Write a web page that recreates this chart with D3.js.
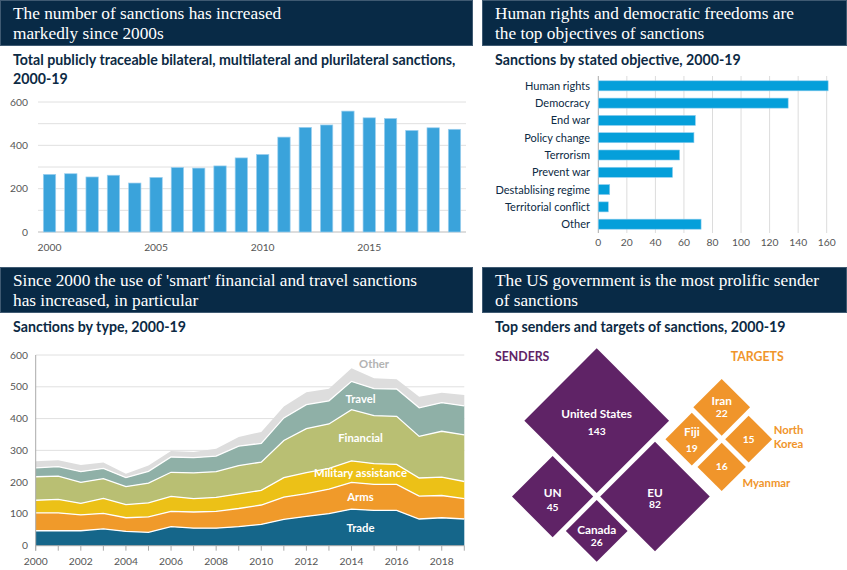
<!DOCTYPE html>
<html><head><meta charset="utf-8">
<script src="https://cdn.jsdelivr.net/npm/d3@7"></script>
<style>
html,body{margin:0;padding:0;background:#fff;}
svg{display:block;}
.hdr{font-family:"Liberation Serif",serif;font-size:17.3px;fill:#fff;}
.sub{font-family:Lato,"Open Sans",sans-serif;font-weight:700;font-size:14.2px;fill:#0c2a44;}
.tick{font-family:Lato,"Open Sans",sans-serif;font-size:10.3px;fill:#555;}
.cat{font-family:Lato,"Open Sans",sans-serif;font-size:11px;fill:#0c2a44;}
.lbl{font-family:Lato,"Open Sans",sans-serif;font-weight:700;font-size:11.3px;}
</style>
</head><body>
<svg id="c" width="847" height="570"></svg>
<script>
// ---------- DATA ----------
const years = d3.range(2000, 2020);
const totalSanctions = [266,269,254,262,226,252,298,295,305,342,358,438,483,494,558,527,524,469,481,474];

const objectives = ["Human rights","Democracy","End war","Policy change","Terrorism","Prevent war","Destablising regime","Territorial conflict","Other"];
const objectiveCounts = [161,133,68,67,57,52,8,7,72];

const typeKeys = ["Trade","Arms","Military assistance","Financial","Travel","Other"];
const trade     = [47,47,47,53,45,42,60,55,55,60,67,83,92,101,115,111,111,84,88,84];
const arms      = [56,56,50,49,43,49,48,51,53,57,61,70,72,77,84,82,82,72,70,64];
const military  = [40,43,36,47,41,44,47,42,44,46,46,61,66,65,68,65,63,57,58,54];
const financial = [74,73,66,62,57,62,76,81,81,89,89,117,138,140,161,151,151,131,144,147];
const travel    = [28,30,34,32,28,37,48,48,49,61,59,71,76,73,89,85,86,90,90,91];
const otherType = [21,20,21,19,12,18,19,18,23,29,36,36,39,38,41,33,31,35,31,34];

const senders = ["United States","UN","EU","Canada"];
const senderCounts = [143,45,82,26];
const targets = ["Iran","Fiji","North Korea","Myanmar"];
const targetCounts = [22,19,15,16];

const headers = [
  ["The number of sanctions has increased","markedly since 2000s"],
  ["Human rights and democratic freedoms are","the top objectives of sanctions"],
  ["Since 2000 the use of 'smart' financial and travel sanctions","has increased, in particular"],
  ["The US government is the most prolific sender","of sanctions"]
];
const subtitles = [
  ["Total publicly traceable bilateral, multilateral and plurilateral sanctions,","2000-19"],
  ["Sanctions by stated objective, 2000-19"],
  ["Sanctions by type, 2000-19"],
  ["Top senders and targets of sanctions, 2000-19"]
];

// ---------- STYLE ----------
const NAVY = "#082a46";
const typeColors = ["#15668a","#f09a2a","#ecc117","#b9bf73","#8fb0a7","#dddddd"];
const PURPLE = "#5f2366", ORANGE = "#f0952b";

const svg = d3.select("#c");

// ---------- HEADERS ----------
const panels = [
  {x:0, w:473, y:0, tx:13, sy:[65,84]},
  {x:482, w:365, y:0, tx:495, sy:[65]},
  {x:0, w:473, y:267, tx:13, sy:[332]},
  {x:482, w:365, y:267, tx:495, sy:[332]}
];
panels.forEach((p,i)=>{
  svg.append("rect").attr("x",p.x+0.5).attr("y",p.y+0.5).attr("width",p.w-1).attr("height",45)
    .attr("fill",NAVY).attr("stroke","#3f5a72").attr("stroke-width",1);
  headers[i].forEach((t,j)=>{
    svg.append("text").attr("class","hdr").attr("x",p.tx).attr("y",p.y+19+j*19.5).text(t);
  });
  subtitles[i].forEach((t,j)=>{
    svg.append("text").attr("class","sub").attr("x",p.tx).attr("y",p.sy[j]).text(t);
  });
});

// ---------- TOP-LEFT: bars ----------
{
  const x = d3.scaleBand().domain(years).range([38,466]).paddingInner(0.42).paddingOuter(0.25);
  const y = d3.scaleLinear().domain([0,600]).range([232,102]);
  const g = svg.append("g");
  g.selectAll("line.grid").data(d3.range(0,601,100)).join("line")
    .attr("x1",38).attr("x2",466).attr("y1",d=>y(d)).attr("y2",d=>y(d))
    .attr("stroke",d=>d===0?"#bbb":"#e0e0e0").attr("stroke-width",1);
  g.selectAll("rect.bar").data(years).join("rect")
    .attr("x",d=>x(d)).attr("width",x.bandwidth())
    .attr("y",(d,i)=>y(totalSanctions[i])).attr("height",(d,i)=>y(0)-y(totalSanctions[i]))
    .attr("fill","#3aa3db").attr("stroke","#9ed0ef").attr("stroke-width",0.7);
  g.selectAll("text.yl").data([0,200,400,600]).join("text").attr("class","tick")
    .attr("x",28).attr("y",d=>y(d)+3.5).attr("text-anchor","end").text(d=>d);
  g.selectAll("text.xl").data([2000,2005,2010,2015]).join("text").attr("class","tick")
    .attr("x",d=>x(d)+x.bandwidth()/2).attr("y",251).attr("text-anchor","middle").text(d=>d);
}

// ---------- TOP-RIGHT: horizontal bars ----------
{
  const x = d3.scaleLinear().domain([0,160]).range([598.3,826.7]);
  const y = d3.scaleBand().domain(objectives).range([77,233]).paddingInner(0.42).paddingOuter(0.22);
  const g = svg.append("g");
  g.selectAll("line.grid").data(d3.range(0,161,20)).join("line")
    .attr("x1",d=>x(d)).attr("x2",d=>x(d)).attr("y1",76).attr("y2",233)
    .attr("stroke",d=>d===0?"#aaa":"#dcdcdc").attr("stroke-width",1);
  g.selectAll("rect").data(objectives).join("rect")
    .attr("x",x(0)).attr("y",d=>y(d)).attr("height",y.bandwidth())
    .attr("width",(d,i)=>x(objectiveCounts[i])-x(0))
    .attr("fill","#059fda").attr("stroke","#8fcdee").attr("stroke-width",0.6);
  g.selectAll("text.cat").data(objectives).join("text").attr("class","cat")
    .attr("x",590).attr("y",d=>y(d)+y.bandwidth()/2+4).attr("text-anchor","end").text(d=>d);
  g.selectAll("text.xl").data(d3.range(0,161,20)).join("text").attr("class","tick")
    .attr("x",d=>x(d)).attr("y",246).attr("text-anchor","middle").text(d=>d);
}

// ---------- BOTTOM-LEFT: stacked area ----------
{
  const x = d3.scaleLinear().domain([2000,2019]).range([35.7,464.3]);
  const y = d3.scaleLinear().domain([0,600]).range([545.7,355]);
  const rows = years.map((yr,i)=>({year:yr,"Trade":trade[i],"Arms":arms[i],"Military assistance":military[i],
    "Financial":financial[i],"Travel":travel[i],"Other":otherType[i]}));
  const series = d3.stack().keys(typeKeys)(rows);
  const g = svg.append("g");
  g.selectAll("line.grid").data(d3.range(100,601,100)).join("line")
    .attr("x1",35.7).attr("x2",464.3).attr("y1",d=>y(d)).attr("y2",d=>y(d))
    .attr("stroke","#e0e0e0").attr("stroke-width",1);
  const area = d3.area().x(d=>x(d.data.year)).y0(d=>y(d[0])).y1(d=>y(d[1]));
  g.selectAll("path.layer").data(series).join("path")
    .attr("d",area).attr("fill",(d,i)=>typeColors[i]);
  const line = d3.line().x(d=>x(d.data.year)).y(d=>y(d[1]));
  g.selectAll("path.sep").data(series.slice(0,5)).join("path")
    .attr("d",line).attr("fill","none").attr("stroke","#fff").attr("stroke-width",1.3);
  // axes
  g.append("line").attr("x1",35.7).attr("x2",464.3).attr("y1",y(0)).attr("y2",y(0)).attr("stroke","#aaa");
  g.append("line").attr("x1",35.7).attr("x2",35.7).attr("y1",y(600)).attr("y2",y(0)+5).attr("stroke","#aaa");
  g.selectAll("line.xt").data(years).join("line")
    .attr("x1",d=>x(d)).attr("x2",d=>x(d)).attr("y1",y(0)).attr("y2",y(0)+5).attr("stroke","#aaa");
  g.selectAll("text.yl").data(d3.range(0,601,100)).join("text").attr("class","tick")
    .attr("x",28).attr("y",d=>y(d)+3.5).attr("text-anchor","end").text(d=>d);
  g.selectAll("text.xl").data(d3.range(2000,2019,2)).join("text").attr("class","tick")
    .attr("x",d=>x(d)).attr("y",565).attr("text-anchor","middle").text(d=>d);
  // layer labels
  const lx = 2014.4, i0 = 14, f = lx - 2000 - i0;
  series.forEach((s,k)=>{
    const lo = s[i0][0]+(s[i0+1][0]-s[i0][0])*f;
    const hi = s[i0][1]+(s[i0+1][1]-s[i0][1])*f;
    const isOther = typeKeys[k]==="Other";
    const ty = isOther ? y(s[15][1]) - 10 : y((lo+hi)/2) + 4.5;
    const tx = isOther ? x(2015) : x(lx);
    g.append("text").attr("class","lbl").attr("x",tx).attr("y",ty)
      .attr("text-anchor","middle").attr("fill",isOther?"#b3b3b3":"#fff").text(typeKeys[k]);
  });
}

// ---------- BOTTOM-RIGHT: diamonds ----------
{
  const r = d3.scaleSqrt().domain([0,143]).range([0,72.35]);
  const gap = 7;
  // tiling in rotated frame: a = x+y, b = x-y
  function layout(vals, cx, cy){
    const h = vals.map(v=>r(v));
    const a0 = cx+cy-h[0], b0 = cx-cy-h[0];
    const A = a0+2*h[0];
    const centers = [
      [cx+cy, cx-cy],
      [A - h[1], b0 - gap - h[1]],          // lower-left
      [A + gap + h[2], b0 + h[2]],          // lower-right
      [A + gap + h[3], b0 - gap - h[3]]     // bottom
    ];
    return centers.map((c,i)=>({x:(c[0]+c[1])/2, y:(c[0]-c[1])/2, h:h[i], v:vals[i]}));
  }
  const dpath = d=>`M${d.x},${d.y-d.h}L${d.x+d.h},${d.y}L${d.x},${d.y+d.h}L${d.x-d.h},${d.y}Z`;
  const S = layout(senderCounts, 596.7, 420.7);
  const T = layout(targetCounts, 721.7, 407.3);
  const g = svg.append("g");
  g.selectAll("path.s").data(S).join("path").attr("d",dpath).attr("fill",PURPLE);
  g.selectAll("path.t").data(T).join("path").attr("d",dpath).attr("fill",ORANGE);
  const sOff = [[-6.7,11],[-4,11],[-4,8.3],[-1,11.6]];
  S.forEach((d,i)=>{
    g.append("text").attr("class","lbl").style("font-size","11.8px").attr("fill","#fff").attr("text-anchor","middle")
      .attr("x",d.x).attr("y",d.y+sOff[i][0]+4).text(senders[i]);
    g.append("text").attr("class","lbl").style("font-size","10.3px").attr("fill","#fff").attr("text-anchor","middle")
      .attr("x",d.x).attr("y",d.y+sOff[i][1]+3.5).text(d.v);
  });
  const tOff = [[-6,6],[-7.6,9],[null,0],[null,0]];
  T.forEach((d,i)=>{
    if(tOff[i][0]!==null)
      g.append("text").attr("class","lbl").style("font-size","11.8px").attr("fill","#fff").attr("text-anchor","middle")
        .attr("x",d.x).attr("y",d.y+tOff[i][0]+4).text(targets[i]);
    g.append("text").attr("class","lbl").style("font-size","10.3px").attr("fill","#fff").attr("text-anchor","middle")
      .attr("x",d.x).attr("y",d.y+tOff[i][1]+3.5).text(d.v);
  });
  // outside labels
  g.append("text").attr("class","lbl").attr("fill",ORANGE).attr("x",T[2].x+25).attr("y",T[2].y-5).text("North");
  g.append("text").attr("class","lbl").attr("fill",ORANGE).attr("x",T[2].x+25).attr("y",T[2].y+9).text("Korea");
  g.append("text").attr("class","lbl").attr("fill",ORANGE).attr("x",T[3].x+20.7).attr("y",T[3].y+20.6).text("Myanmar");
  g.append("text").attr("class","lbl").style("font-size","12.3px").attr("fill",PURPLE).attr("x",495).attr("y",361).text("SENDERS");
  g.append("text").attr("class","lbl").style("font-size","12.3px").attr("fill",ORANGE).attr("x",730.7).attr("y",361).text("TARGETS");
}
</script>
</body></html>
